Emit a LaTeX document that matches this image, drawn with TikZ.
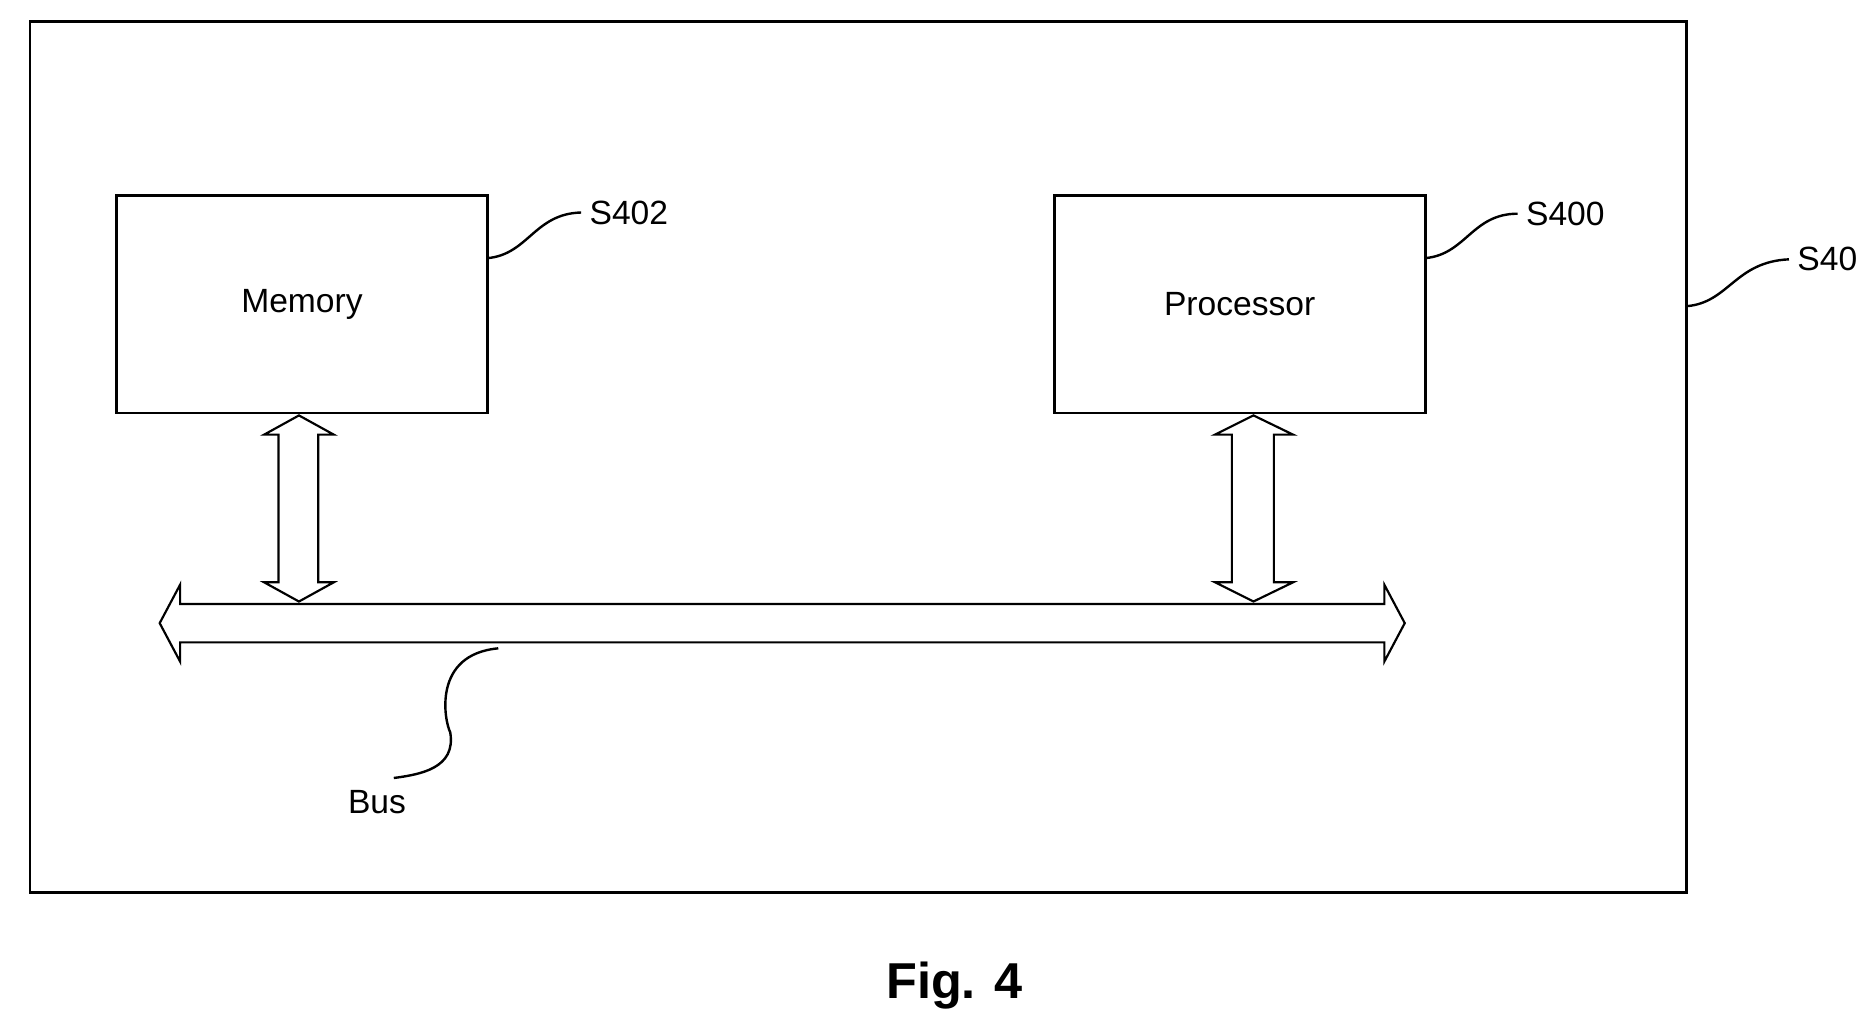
\documentclass[tikz,border=0pt]{standalone}
\usepackage{fontspec}
\setmainfont{Liberation Sans}
\begin{document}
\begin{tikzpicture}[x=0.5pt,y=-0.5pt,
  box/.style={draw,line width=1.2pt},
  lbl/.style={font=\fontsize{14}{16}\selectfont},
  lead/.style={line width=1pt},
  darrow/.style={draw,line width=0.9pt,fill=white}]
\useasboundingbox (0,0) rectangle (1560,861);
\draw[box] (25,18) rectangle (1405,743);
\node[box,minimum width=154.5pt,minimum height=90.5pt,lbl] (mem) at (251.5,253.5) {Memory};
\node[box,minimum width=154.5pt,minimum height=90.5pt,lbl] (proc) at (1032.5,253.5) {Processor};
\node[lbl,anchor=west] (s402) at (484,177) {S402};
\node[lbl,anchor=west] (s400) at (1264,178) {S400};
\node[lbl,anchor=west] (s40) at (1490,216) {S40};
\node[lbl] (bus) at (314,668) {Bus};
\node[font=\bfseries\fontsize{21}{24}\selectfont] (fig) at (795,821) {Fig. 4};
\draw[lead] (406,215) .. controls (440,212) and (445,178) .. (s402.west);
\draw[lead] (1187,215) .. controls (1221,212) and (1226,178) .. (s400.west);
\draw[lead] (1405,255) .. controls (1440,252) and (1445,218) .. (s40.west);
\draw[lead] (415,540) .. controls (360,545) and (370,600) .. (375,610) .. controls (380,640) and (350,645) .. (328,648);
% vertical arrows
\draw[darrow] (249,346) -- (278,362) -- (265,362) -- (265,485) -- (278,485) -- (249,501) -- (220,485) -- (232,485) -- (232,362) -- (220,362) -- cycle;
\draw[darrow] (1044,346) -- (1077,362) -- (1061,362) -- (1061,485) -- (1077,485) -- (1044,501) -- (1012,485) -- (1026,485) -- (1026,362) -- (1012,362) -- cycle;
% bus
\draw[darrow] (133,519) -- (150,487) -- (150,503) -- (1153,503) -- (1153,487) -- (1170,519) -- (1153,551) -- (1153,535) -- (150,535) -- (150,551) -- cycle;
\end{tikzpicture}
\end{document}
